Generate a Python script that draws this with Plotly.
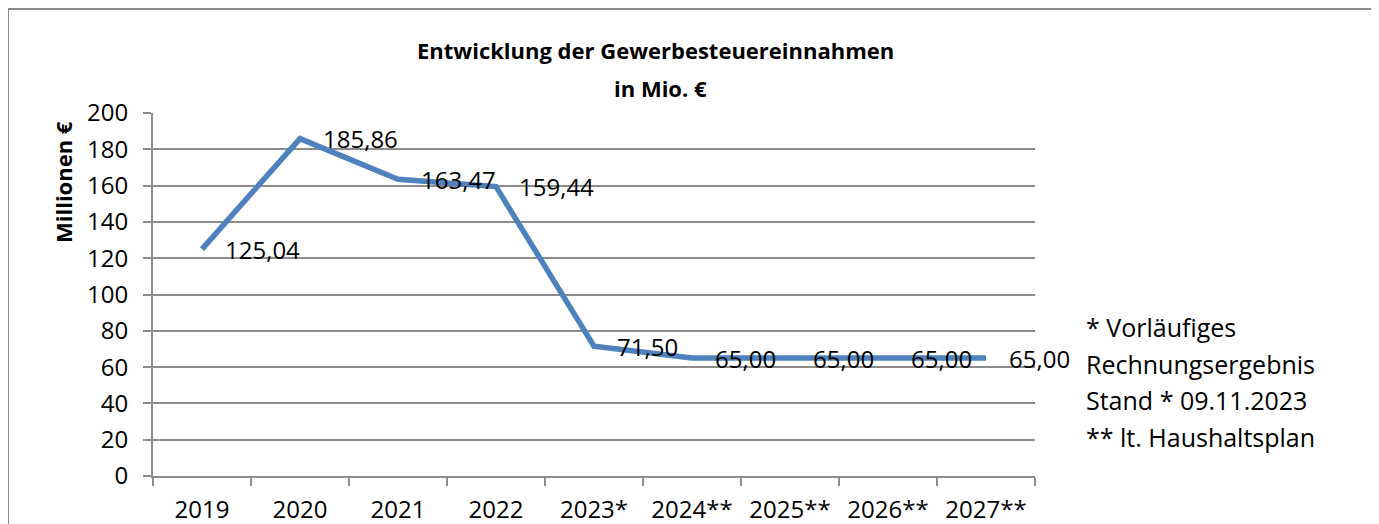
import plotly.graph_objects as go

categories = ["2019", "2020", "2021", "2022", "2023*", "2024**", "2025**", "2026**", "2027**"]
values = [125.04, 185.86, 163.47, 159.44, 71.50, 65.00, 65.00, 65.00, 65.00]
value_labels = ["125,04", "185,86", "163,47", "159,44", "71,50", "65,00", "65,00", "65,00", "65,00"]
y_ticks = [0, 20, 40, 60, 80, 100, 120, 140, 160, 180, 200]
title_line1 = "Entwicklung der Gewerbesteuereinnahmen"
title_line2 = "in Mio. €"
y_title = "Millionen €"
footnotes = ["* Vorläufiges", "Rechnungsergebnis", "Stand * 09.11.2023", "** lt. Haushaltsplan"]

W, H = 1379, 524
OFF = 8  # page body margin offset
L, R, T, B = 153 - OFF, 1035 - OFF, 113 - OFF, 476 - OFF
FONT = "Open Sans"
GRID = "#8c8c8c"

fig = go.Figure()
fig.add_trace(go.Scatter(
    x=categories, y=values, mode="lines",
    line=dict(color="#4F81BD", width=5.5),
    hoverinfo="skip", showlegend=False,
))

def px_x(p):
    return (p - OFF - L) / (R - L)

def px_y(p):
    return (B - (p - OFF)) / (B - T)

annotations = []
for i, (v, t) in enumerate(zip(values, value_labels)):
    annotations.append(dict(
        x=i, y=v, xref="x", yref="y", text=t, showarrow=False,
        xanchor="left", yanchor="middle", xshift=21,
        font=dict(family=FONT, size=24, color="black"),
    ))

annotations.append(dict(x=px_x(655), y=px_y(50), xref="paper", yref="paper",
                        text="<b>" + title_line1 + "</b>", showarrow=False,
                        xanchor="center", yanchor="middle",
                        font=dict(family=FONT, size=22, color="black")))
annotations.append(dict(x=px_x(660), y=px_y(88), xref="paper", yref="paper",
                        text="<b>" + title_line2 + "</b>", showarrow=False,
                        xanchor="center", yanchor="middle",
                        font=dict(family=FONT, size=22, color="black")))
annotations.append(dict(x=px_x(63), y=px_y(182), xref="paper", yref="paper",
                        text="<b>" + y_title + "</b>", showarrow=False, textangle=-90,
                        xanchor="center", yanchor="middle",
                        font=dict(family=FONT, size=22, color="black")))
for i, line in enumerate(footnotes):
    annotations.append(dict(x=px_x(1084), y=px_y(327 + i * 36.5), xref="paper", yref="paper",
                            text=line, showarrow=False,
                            xanchor="left", yanchor="middle",
                            font=dict(family=FONT, size=25, color="black")))

fig.update_layout(
    width=W, height=H,
    margin=dict(l=L, r=W - R, t=T, b=H - B, autoexpand=False),
    paper_bgcolor="white", plot_bgcolor="white",
    annotations=annotations,
    shapes=[dict(type="rect", xref="paper", yref="paper",
                 x0=px_x(8), x1=px_x(1377), y0=px_y(9), y1=px_y(560),
                 line=dict(color="#8a8a8a", width=2), layer="below")],
    xaxis=dict(
        type="category", range=[-0.5, len(categories) - 0.5],
        showgrid=False, showline=True, linecolor=GRID, linewidth=2,
        ticks="outside", ticklen=8, tickcolor=GRID, tickwidth=2,
        tickson="boundaries", ticklabelstandoff=11,
        tickfont=dict(family=FONT, size=24, color="black"),
    ),
    yaxis=dict(
        range=[0, 200], tickvals=y_ticks,
        showgrid=True, gridcolor=GRID, gridwidth=2,
        showline=True, linecolor=GRID, linewidth=2,
        ticks="outside", ticklen=8, tickcolor=GRID, tickwidth=2,
        ticklabelstandoff=10, zeroline=False,
        tickfont=dict(family=FONT, size=24, color="black"),
    ),
)

fig.write_html("out.html")
